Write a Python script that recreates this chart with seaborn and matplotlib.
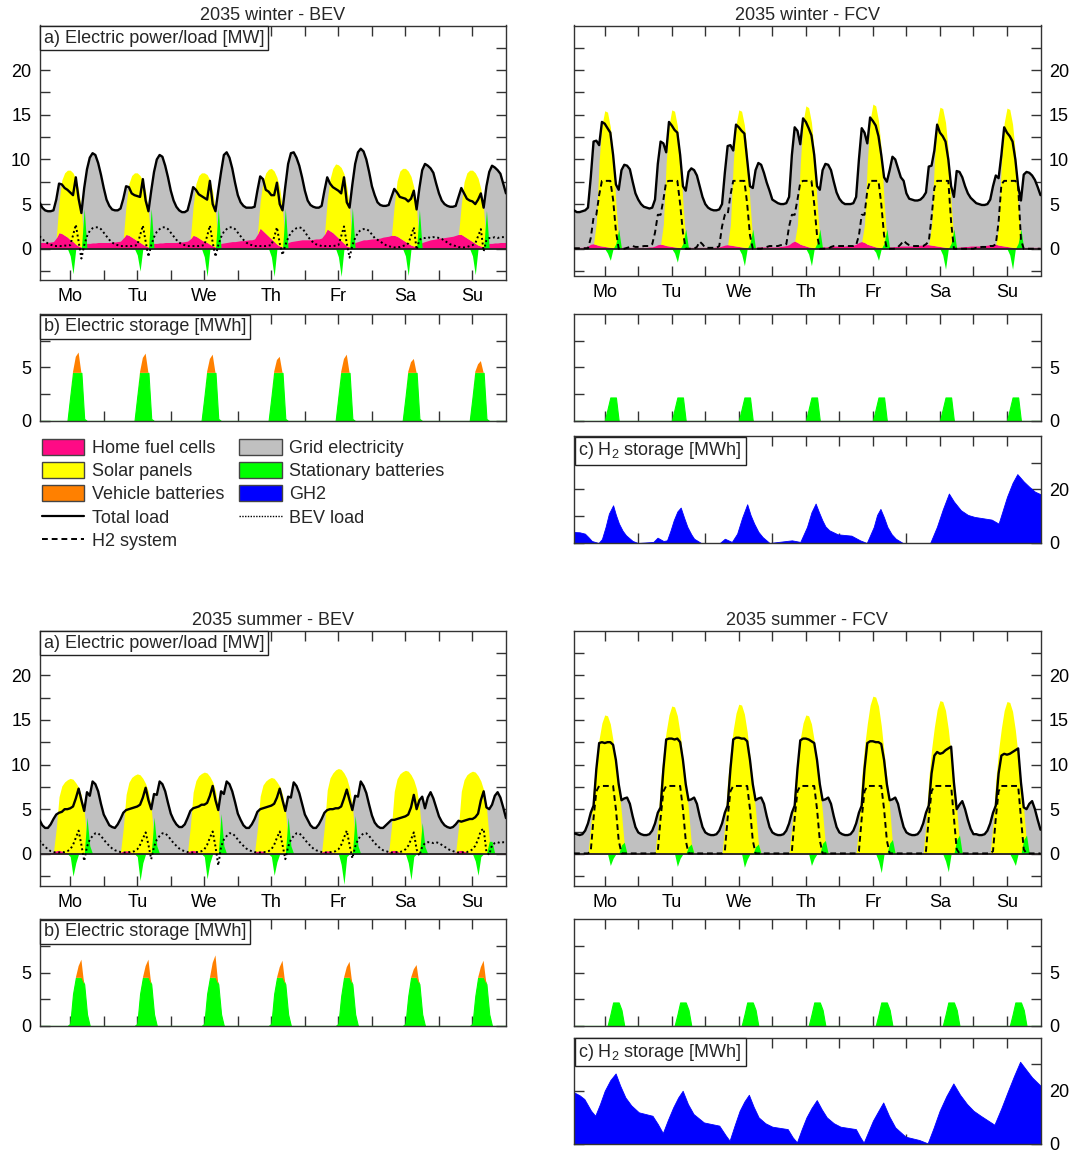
import numpy as np
import matplotlib
matplotlib.use("Agg")
import matplotlib.pyplot as plt
from matplotlib.patches import Patch
from matplotlib.lines import Line2D
import seaborn as sns

# ---------------- data (hourly, hour 1..24 of each day, Mo..Su) ----------------
DAYS = ["Mo", "Tu", "We", "Th", "Fr", "Sa", "Su"]

# ---- 2035 winter - BEV ----
WB_LOAD = [
    [5.2,4.6,4.3,4.2,4.2,4.3,5.5,7.3,7.2,6.8,6.6,6.3,6.0,8.0,5.6,4.0,6.8,8.9,10.2,10.7,10.5,9.6,8.3,6.8],
    [5.5,4.8,4.4,4.3,4.3,4.5,5.6,7.0,6.9,6.2,6.0,5.9,5.8,7.8,5.4,4.2,6.5,8.6,10.0,10.5,10.3,9.3,8.0,6.5],
    [5.4,4.7,4.3,4.1,4.1,4.3,5.5,6.9,6.6,6.1,5.9,5.7,5.5,7.6,5.0,4.2,6.5,8.6,10.5,10.8,10.2,9.0,7.4,6.0],
    [5.2,4.8,4.6,4.6,4.6,4.7,6.5,8.1,7.8,6.6,6.4,6.0,6.0,7.4,5.0,4.3,7.0,9.5,10.7,10.8,10.2,9.3,8.0,6.5],
    [5.4,4.9,4.7,4.6,4.6,4.8,6.5,8.0,7.3,6.9,6.7,6.5,6.2,8.0,5.2,4.6,7.2,9.5,10.8,11.2,10.9,10.0,8.6,7.0],
    [6.0,5.2,4.9,4.8,4.8,4.9,5.8,6.7,6.3,5.8,5.7,5.6,5.3,5.6,6.5,4.4,6.8,8.8,9.5,9.3,9.0,8.5,7.3,6.2],
    [5.4,5.0,4.8,4.7,4.7,4.8,5.8,6.8,6.2,5.6,5.4,5.3,5.0,5.5,6.2,4.6,7.0,8.6,9.3,9.1,8.8,8.4,7.3,6.2],
]
WB_BEV = [
    [1.4,1.1,0.8,0.6,0.45,0.35,0.3,0.3,0.3,0.35,0.35,0.4,1.5,2.7,0.8,-1.1,0.4,1.4,2.0,2.3,2.4,2.4,2.2,1.8],
    [1.4,1.0,0.7,0.5,0.4,0.3,0.3,0.3,0.3,0.3,0.35,0.4,1.5,2.6,0.8,-0.9,0.4,1.3,1.9,2.2,2.4,2.4,2.2,1.8],
    [1.4,1.0,0.7,0.5,0.4,0.3,0.3,0.3,0.3,0.3,0.35,0.4,1.4,2.6,0.7,-0.9,0.4,1.3,1.9,2.2,2.4,2.4,2.2,1.8],
    [1.4,1.0,0.7,0.5,0.4,0.3,0.3,0.3,0.3,0.3,0.35,0.4,1.3,2.4,0.6,-0.7,0.4,1.2,1.8,2.1,2.3,2.4,2.3,1.9],
    [1.4,1.0,0.7,0.5,0.4,0.3,0.3,0.3,0.3,0.3,0.35,0.4,1.4,2.5,0.6,-1.0,0.4,1.2,1.8,2.1,2.2,2.2,2.0,1.6],
    [1.2,1.0,0.8,0.6,0.4,0.3,0.2,0.15,0.15,0.2,0.3,0.4,0.6,1.4,2.4,-0.1,1.0,1.2,1.2,1.3,1.2,1.3,1.3,1.2],
    [1.1,0.9,0.7,0.5,0.4,0.3,0.2,0.15,0.15,0.2,0.3,0.4,0.6,1.4,2.2,-0.3,1.0,1.2,1.2,1.3,1.2,1.3,1.3,1.3],
]
WB_FC = [
    [0.7,0.7,0.7,0.7,0.75,0.8,1.2,1.8,1.7,1.5,1.3,1.0,0.8,0.5,0.3,0.2,0.4,0.6,0.6,0.65,0.65,0.7,0.7,0.7],
    [0.7,0.7,0.75,0.75,0.8,0.85,1.2,1.6,1.5,1.3,1.1,0.9,0.7,0.5,0.3,0.2,0.4,0.6,0.6,0.65,0.65,0.7,0.7,0.7],
    [0.7,0.7,0.75,0.75,0.8,0.85,1.1,1.5,1.4,1.2,1.0,0.8,0.7,0.5,0.3,0.2,0.4,0.6,0.65,0.7,0.75,0.8,0.8,0.85],
    [0.9,0.9,0.95,1.0,1.0,1.1,1.6,2.3,2.0,1.7,1.4,1.1,0.8,0.5,0.3,0.2,0.4,0.7,0.8,0.85,0.9,0.95,1.0,1.0],
    [1.0,1.0,1.05,1.1,1.1,1.2,1.6,2.2,2.0,1.8,1.5,1.2,0.9,0.6,0.3,0.2,0.4,0.7,0.8,0.9,1.0,1.0,1.05,1.1],
    [1.1,1.15,1.2,1.3,1.35,1.4,1.5,1.5,1.4,1.2,1.0,0.8,0.6,0.4,0.3,0.2,0.4,0.7,0.8,0.9,1.0,1.05,1.1,1.2],
    [1.2,1.25,1.3,1.35,1.4,1.5,1.6,1.6,1.4,1.2,1.0,0.8,0.6,0.4,0.3,0.2,0.4,0.6,0.6,0.65,0.65,0.7,0.7,0.7],
]
WB_SOLAR_START = 8   # values for hours 8..16
WB_SOLAR = [
    [3.5,6.0,7.0,7.5,7.8,7.7,7.3,6.3,4.2],
    [3.3,5.8,6.9,7.4,7.6,7.5,7.1,6.1,4.0],
    [3.3,5.9,7.0,7.5,7.7,7.6,7.2,6.1,4.0],
    [3.0,5.5,6.8,7.5,7.9,7.9,7.5,6.5,4.3],
    [3.2,5.8,7.2,8.0,8.2,8.2,7.8,6.6,4.4],
    [3.4,6.2,7.5,8.0,8.2,8.1,7.7,6.6,4.3],
    [3.4,6.1,7.3,7.8,8.0,7.9,7.5,6.4,4.2],
]
WB_BATT_START = 12   # hours 12..18
WB_BATT = [
    [-0.8,-2.8,0,0,0,4.5,0],
    [-0.7,-2.5,0,0,0,4.5,0],
    [-0.9,-3.1,0,0,0,4.5,0],
    [-0.9,-3.1,0,0,0,4.5,0],
    [-0.9,-3.1,0,0,0,4.6,0],
    [-0.8,-3.0,0,0,0,4.4,0],
    [-0.8,-2.9,0,0,0,4.3,0],
]
WB_STAT_START = 11   # hours 11..18
WB_STAT = [
    [0,2.3,4.5,4.5,4.5,4.5,0.2,0],
    [0,2.3,4.5,4.5,4.5,4.5,0.2,0],
    [0,2.2,4.5,4.5,4.5,4.5,0.2,0],
    [0,2.2,4.5,4.5,4.5,4.5,0.2,0],
    [0,2.3,4.5,4.5,4.5,4.5,0.2,0],
    [0,2.2,4.5,4.5,4.5,4.5,0.2,0],
    [0,2.2,4.5,4.5,4.5,4.5,0.2,0],
]
WB_VEH_START = 13    # hours 13..16
WB_VEH = [
    [0.1,1.5,1.9,0.0],
    [0.1,1.4,1.8,0.0],
    [0.1,1.3,1.7,0.0],
    [0.1,1.2,1.5,0.0],
    [0.1,1.3,1.7,0.0],
    [0.1,1.0,1.3,0.0],
    [0.1,0.8,1.1,0.0],
]

# ---- 2035 winter - FCV ----
WF_LOAD = [
    [4.3,4.1,4.1,4.2,4.3,4.6,8.0,12.0,12.1,11.6,14.2,14.0,13.5,13.0,10.5,7.2,6.6,8.8,9.4,9.3,8.9,7.5,6.2,5.5],
    [5.0,4.7,4.6,4.5,4.6,5.5,9.5,12.0,11.8,10.8,14.2,13.8,13.3,13.0,10.5,7.0,6.5,8.6,9.0,8.8,8.2,7.0,5.8,5.0],
    [4.6,4.4,4.3,4.3,4.4,5.0,8.5,11.5,11.6,11.0,13.9,13.6,13.2,12.9,10.0,7.0,6.8,8.8,9.6,9.4,8.5,7.4,6.5,5.5],
    [5.3,5.1,5.0,5.0,5.1,5.8,10.5,13.6,13.2,11.7,14.6,14.2,13.5,12.7,10.5,7.0,6.6,8.8,9.5,9.4,8.8,7.5,6.3,5.6],
    [5.2,5.0,5.0,5.0,5.1,5.8,10.0,13.5,13.0,11.8,14.7,14.3,13.8,12.6,10.5,8.0,7.5,8.8,10.3,10.0,9.0,8.0,7.6,6.2],
    [5.6,5.5,5.4,5.4,5.5,5.8,6.3,9.2,9.3,11.0,13.9,13.0,12.6,12.0,10.0,7.0,5.8,8.7,8.6,8.0,7.0,6.2,5.7,5.4],
    [5.1,5.0,4.9,4.9,5.0,5.5,7.0,8.2,7.9,10.5,13.6,13.0,12.6,12.0,10.0,7.0,5.4,8.3,8.6,8.5,8.2,7.7,6.9,6.0],
]
WF_H2 = [
    [0.05,0.05,0.05,0.05,0.05,0.05,1.2,3.5,3.8,6.0,7.6,7.6,7.6,7.6,5.5,2.0,0,0,0,0.1,0.2,0.3,0.2,0.2],
    [0.2,0.3,0.3,0.3,0.5,1.8,3.8,3.8,5.5,7.5,7.6,7.6,7.6,7.6,5.0,1.8,0,0,0,0,0.2,0.8,0.5,0.1],
    [0.1,0.1,0.1,0.1,0.3,2.5,3.8,3.8,6.0,7.6,7.6,7.6,7.6,7.6,5.0,1.5,0,0,0,0,0.1,0.2,0.3,0.3],
    [0.3,0.3,0.4,0.4,0.5,2.5,3.8,3.8,5.5,7.4,7.6,7.6,7.6,7.6,5.0,1.5,0,0,0,0,0.2,0.3,0.3,0.3],
    [0.3,0.3,0.3,0.3,0.3,0.4,1.5,3.8,3.8,6.5,7.6,7.6,7.6,7.6,5.0,1.5,0,0,0,0,0.2,0.5,0.9,0.6],
    [0.4,0.3,0.3,0.3,0.3,0.3,0.5,0.8,3.5,6.8,7.6,7.6,7.6,7.6,7.6,3.0,0,0,0,0,0,0,0,0],
    [0.1,0.1,0.2,0.2,0.2,0.3,0.3,0.5,3.0,7.2,7.6,7.6,7.6,7.6,7.6,7.0,1.0,0,0,0,0,0,0,0],
]
WF_FC = [
    [0.15,0.15,0.15,0.15,0.2,0.3,0.5,0.55,0.45,0.35,0.3,0.25,0.2,0.15,0.1,0.1,0.15,0.15,0.15,0.15,0.15,0.15,0.15,0.15],
    [0.15,0.15,0.15,0.2,0.2,0.3,0.45,0.5,0.45,0.35,0.3,0.25,0.2,0.15,0.1,0.1,0.15,0.15,0.15,0.15,0.15,0.15,0.15,0.15],
    [0.15,0.15,0.15,0.2,0.2,0.3,0.4,0.45,0.4,0.35,0.3,0.25,0.2,0.15,0.1,0.1,0.15,0.15,0.2,0.2,0.2,0.2,0.2,0.2],
    [0.2,0.2,0.25,0.3,0.35,0.45,0.7,0.85,0.7,0.5,0.4,0.3,0.2,0.15,0.1,0.1,0.15,0.2,0.2,0.25,0.25,0.3,0.3,0.3],
    [0.3,0.3,0.35,0.35,0.4,0.5,0.7,0.8,0.7,0.5,0.4,0.3,0.2,0.15,0.1,0.1,0.15,0.2,0.2,0.25,0.25,0.3,0.3,0.3],
    [0.3,0.3,0.35,0.35,0.4,0.4,0.45,0.45,0.4,0.35,0.3,0.25,0.2,0.15,0.1,0.1,0.15,0.15,0.2,0.2,0.25,0.25,0.3,0.3],
    [0.3,0.3,0.35,0.35,0.4,0.45,0.5,0.5,0.4,0.35,0.3,0.25,0.2,0.15,0.1,0.1,0.15,0.15,0.15,0.15,0.15,0.15,0.15,0.15],
]
WF_SOLAR_START = 9   # hours 9..17
WF_SOLAR = [
    [2.5,9.5,13.5,15.2,15.1,13.5,10.5,5.0,0.8],
    [2.3,9.3,13.5,15.3,15.2,13.6,10.5,5.0,0.8],
    [2.3,9.2,13.6,15.3,15.2,13.7,10.6,5.1,0.8],
    [2.0,9.0,13.8,15.7,15.6,14.0,10.8,5.2,0.8],
    [2.0,9.2,14.0,15.9,15.8,14.2,11.0,5.3,0.8],
    [2.2,9.3,13.9,15.6,15.5,14.0,10.8,5.2,0.8],
    [2.2,9.2,13.8,15.5,15.4,13.8,10.6,5.1,0.8],
]
WF_BATT_START = 13   # hours 13..18
WF_BATT = [
    [-0.5,-1.3,0,0.6,2.2,0],
    [-0.5,-1.5,0,0.6,2.2,0],
    [-0.6,-1.9,0,0.6,2.2,0],
    [-0.6,-1.9,0,0.6,2.2,0],
    [-0.4,-1.3,0,0.6,2.2,0],
    [-0.7,-2.3,0,0.6,2.2,0],
    [-0.7,-2.3,0,0.6,2.2,0],
]
WF_STAT_START = 12   # hours 12..17
WF_STAT = [
    [0,1.1,2.2,2.2,2.2,0],
    [0,1.1,2.2,2.2,2.2,0],
    [0,1.1,2.2,2.2,2.2,0],
    [0,1.1,2.2,2.2,2.2,0],
    [0,1.1,2.2,2.2,2.2,0],
    [0,1.1,2.2,2.2,2.2,0],
    [0,1.1,2.2,2.2,2.2,0],
]
WF_GH2_HOURS = [1,3,4.9,6.1,7.4,9.8,11,12.3,13.5,15,16,17.1,18.4,19.6,22,23.9,
                29.4,30.9,33,34.3,35.5,36.7,38,39.2,40.4,41.6,43,44,46.5,
                53.2,55,57.5,59.4,61.2,63,64.2,65.5,67,68.5,71,
                79,82,84.4,86,87.5,88.7,89.9,91,92.4,95.4,100.3,103.4,105.8,
                108.3,109.5,110.7,112,113.2,114.7,116.2,118.7,
                128.5,130.9,133,135.2,137,139.5,142,144.4,150.5,153,156,158,159.7,162,164,166,168]
WF_GH2 = [4.1,4.0,3.5,2.25,0.75,0,1.5,6,11,14.1,10.5,7.25,4.6,2.9,0.75,0,
          0.4,2.0,0.75,1,4.5,8.5,11.8,13.25,9.5,6,3.2,1.6,0,
          0,1.6,0.4,3.5,9.5,14.5,10.5,7.25,4.2,2.25,0,
          1,0.4,6,11.5,14.75,11.5,8.5,6.2,4.75,3.25,2.75,1,0,
          6,10.5,12.75,9.5,6,3.3,1.6,0,
          0,6,12.5,18.5,15.5,12.25,10.5,9.75,8.75,7.25,17.25,22.5,25.75,23,21,19.2,18.25]

# ---- 2035 summer - BEV ----
SB_LOAD = [
    [3.8,3.2,2.9,2.9,3.3,3.9,4.4,4.6,4.7,5.0,5.0,5.1,5.3,6.2,7.3,6.0,4.8,6.9,6.5,8.1,7.8,7.0,5.6,4.4],
    [3.8,3.2,3.0,2.9,3.3,3.9,4.6,4.9,5.0,5.1,5.2,5.3,5.5,6.3,7.4,6.0,5.0,6.7,6.6,8.1,7.8,7.0,5.7,4.5],
    [3.8,3.3,3.0,3.0,3.3,4.0,4.8,5.1,5.2,5.3,5.5,5.5,5.7,6.5,7.6,6.0,4.9,7.0,6.7,8.1,7.8,7.0,5.8,4.5],
    [3.8,3.2,2.9,2.9,3.3,3.9,4.7,5.0,5.1,5.2,5.3,5.4,5.6,6.3,7.3,6.0,4.8,6.4,6.3,8.0,7.6,6.8,5.6,4.4],
    [3.8,3.2,2.9,2.9,3.3,3.9,4.6,4.9,5.0,5.0,5.1,5.1,5.3,6.2,7.2,6.0,4.9,6.5,6.4,8.1,7.6,6.8,5.5,4.3],
    [3.5,3.1,2.9,2.9,3.2,3.5,3.8,3.8,3.9,4.0,4.1,4.2,4.4,5.2,6.6,5.0,6.0,6.4,5.1,6.3,6.9,6.2,5.2,4.2],
    [3.6,3.2,3.0,2.9,3.0,3.3,3.7,3.6,3.7,3.8,3.9,3.9,4.1,4.5,6.0,7.0,5.2,5.0,5.5,6.5,6.9,6.3,5.2,4.0],
]
SB_BEV = [
    [1.5,1.1,0.8,0.5,0.3,0.2,0.15,0.15,0.2,0.2,0.3,0.5,1.0,1.8,2.6,1.0,-0.8,0.8,1.6,2.0,2.3,2.3,2.0,1.6],
    [1.2,0.9,0.6,0.4,0.3,0.2,0.15,0.15,0.2,0.2,0.3,0.5,1.0,1.7,2.4,1.0,-0.6,0.8,1.6,2.0,2.3,2.3,2.0,1.6],
    [1.2,0.9,0.6,0.4,0.3,0.2,0.15,0.15,0.2,0.2,0.3,0.5,1.0,1.8,2.5,0.8,-1.3,0.8,1.6,2.0,2.3,2.3,2.0,1.6],
    [1.2,0.9,0.6,0.4,0.3,0.2,0.15,0.15,0.2,0.2,0.3,0.5,1.0,1.8,2.5,1.0,-0.6,0.8,1.6,2.0,2.3,2.3,2.0,1.6],
    [1.2,0.9,0.6,0.4,0.3,0.2,0.15,0.15,0.2,0.2,0.3,0.5,1.0,1.8,2.6,1.0,-0.5,0.8,1.6,2.0,2.3,2.3,2.0,1.6],
    [1.2,0.9,0.6,0.4,0.3,0.2,0.15,0.15,0.2,0.2,0.3,0.5,0.9,1.6,2.4,0.5,-0.2,0.8,1.2,1.3,1.3,1.2,1.3,1.2],
    [1.0,0.8,0.6,0.4,0.3,0.2,0.15,0.15,0.2,0.2,0.3,0.5,0.9,1.6,2.6,2.8,0.2,-0.1,1.0,1.2,1.3,1.2,1.3,1.3],
]
SB_FC = [
    [0.05,0.05,0.05,0.05,0.1,0.2,0.35,0.4,0.3,0.15,0.1,0.05,0.05,0.05,0.05,0.05,0.05,0.05,0.05,0.05,0.05,0.05,0.05,0.05],
    [0.05,0.05,0.05,0.05,0.1,0.2,0.3,0.35,0.3,0.15,0.1,0.05,0.05,0.05,0.05,0.05,0.05,0.05,0.05,0.05,0.05,0.05,0.05,0.05],
    [0.05,0.05,0.05,0.05,0.1,0.2,0.35,0.4,0.3,0.15,0.1,0.05,0.05,0.05,0.05,0.05,0.05,0.05,0.05,0.05,0.05,0.05,0.05,0.05],
    [0.05,0.05,0.05,0.05,0.1,0.2,0.3,0.35,0.3,0.15,0.1,0.05,0.05,0.05,0.05,0.05,0.05,0.05,0.05,0.05,0.05,0.05,0.05,0.05],
    [0.05,0.05,0.05,0.05,0.1,0.2,0.3,0.35,0.3,0.15,0.1,0.05,0.05,0.05,0.05,0.05,0.05,0.05,0.05,0.05,0.05,0.05,0.05,0.05],
    [0.05,0.05,0.05,0.05,0.1,0.2,0.35,0.4,0.3,0.15,0.1,0.05,0.05,0.05,0.05,0.05,0.05,0.05,0.05,0.05,0.05,0.05,0.05,0.05],
    [0.05,0.05,0.05,0.05,0.1,0.2,0.35,0.4,0.3,0.15,0.1,0.05,0.05,0.05,0.05,0.05,0.05,0.05,0.05,0.05,0.05,0.05,0.05,0.05],
]
SB_SOLAR_START = 7   # hours 7..18
SB_SOLAR = [
    [2.5,6.0,7.3,7.9,8.2,8.4,8.3,7.9,7.4,6.5,4.8,1.5],
    [2.6,6.3,7.7,8.4,8.7,8.9,8.8,8.4,7.8,6.9,5.1,1.6],
    [2.7,6.5,7.9,8.6,8.9,9.1,9.0,8.6,8.0,7.0,5.2,1.6],
    [2.5,6.1,7.4,8.0,8.3,8.5,8.4,8.0,7.5,6.6,4.9,1.5],
    [2.8,6.8,8.2,8.9,9.3,9.5,9.4,9.0,8.4,7.3,5.4,1.7],
    [2.7,6.6,8.1,8.8,9.1,9.3,9.2,8.8,8.2,7.2,5.3,1.7],
    [2.7,6.6,8.0,8.7,9.0,9.2,9.1,8.7,8.1,7.1,5.2,1.6],
]
SB_BATT_START = 12   # hours 12..20
SB_BATT = [
    [-0.3,-2.5,-1.0,0,0,0,4.1,0.9,0],
    [-0.3,-3.0,-1.0,0,0,0,4.1,0.9,0],
    [-0.3,-2.8,-1.0,0,0,0,4.5,0.9,0],
    [-0.3,-2.4,-0.9,0,0,0,4.1,0.9,0],
    [0,-1.2,-3.4,-0.3,0,0,4.3,0.9,0],
    [0,-1.0,-2.9,-0.3,0,0,3.5,0.8,0],
    [0,-0.8,-2.4,-0.3,0,0,1.4,1.4,0],
]
SB_STAT_START = 12   # hours 12..19
SB_STAT = [
    [0.2,3.0,4.5,4.5,4.5,3.9,1.1,0],
    [0.2,3.0,4.5,4.5,4.5,3.9,1.1,0],
    [0.2,3.0,4.5,4.5,4.5,3.9,1.1,0],
    [0.2,3.0,4.5,4.5,4.5,3.9,1.1,0],
    [0.2,2.8,4.5,4.5,4.5,3.9,1.1,0],
    [0.2,2.8,4.5,4.5,4.5,3.9,1.1,0],
    [0.2,2.8,4.5,4.5,4.5,3.9,1.1,0],
]
SB_VEH_START = 14    # hours 14..17
SB_VEH = [
    [0.0,1.1,1.7,0.0],
    [0.0,1.1,1.7,0.0],
    [0.0,1.4,2.1,0.0],
    [0.0,1.0,1.6,0.0],
    [0.0,1.0,1.5,0.0],
    [0.0,0.8,1.2,0.0],
    [0.0,1.0,1.6,0.0],
]

# ---- 2035 summer - FCV ----
SF_LOAD = [
    [2.3,2.2,2.1,2.2,2.6,3.4,4.6,5.4,9.5,12.4,12.5,12.4,12.5,12.5,12.2,10.5,7.8,6.0,6.2,6.3,5.6,4.2,3.0,2.4],
    [2.2,2.1,2.1,2.2,2.6,3.4,4.6,5.2,9.5,12.8,12.9,12.9,12.8,12.9,12.5,10.5,7.8,6.0,6.1,6.3,5.6,4.2,3.0,2.4],
    [2.2,2.1,2.1,2.2,2.6,3.4,4.6,5.4,9.5,12.8,13.0,13.0,12.9,12.9,12.6,10.5,7.8,6.0,6.2,6.3,5.6,4.2,3.0,2.4],
    [2.2,2.1,2.1,2.2,2.6,3.4,4.6,5.4,9.5,12.7,12.9,12.9,12.8,12.6,12.4,10.5,7.8,6.0,6.1,6.3,5.6,4.2,3.0,2.4],
    [2.2,2.1,2.1,2.2,2.6,3.4,4.6,5.4,9.5,12.4,12.6,12.6,12.5,12.5,12.3,10.5,7.8,6.0,6.1,6.3,5.6,4.2,3.0,2.4],
    [2.2,2.1,2.1,2.2,2.6,3.4,4.6,5.4,9.0,11.0,11.4,11.2,11.3,11.6,11.8,12.0,8.0,5.0,5.5,5.9,5.0,3.8,2.8,2.2],
    [2.2,2.1,2.1,2.2,2.6,3.4,4.6,5.4,9.0,11.0,11.2,11.1,11.2,11.4,11.6,11.8,8.0,5.2,5.0,5.6,5.9,5.0,3.8,2.7],
]
SF_H2 = [
    [0.05,0.05,0.05,0.05,0.05,0.05,0.3,4.0,7.0,7.6,7.6,7.6,7.6,7.6,7.6,5.0,1.5,0.05,0.05,0.05,0.05,0.05,0.05,0.05],
    [0.05,0.05,0.05,0.05,0.05,0.05,0.3,4.0,7.0,7.6,7.6,7.6,7.6,7.6,7.6,5.0,1.5,0.05,0.05,0.05,0.05,0.05,0.05,0.05],
    [0.05,0.05,0.05,0.05,0.05,0.05,0.3,4.0,7.0,7.6,7.6,7.6,7.6,7.6,7.6,5.0,1.5,0.05,0.05,0.05,0.05,0.05,0.05,0.05],
    [0.05,0.05,0.05,0.05,0.05,0.05,0.3,4.0,7.0,7.6,7.6,7.6,7.6,7.6,7.6,5.0,1.5,0.05,0.05,0.05,0.05,0.05,0.05,0.05],
    [0.05,0.05,0.05,0.05,0.05,0.05,0.3,4.0,7.0,7.6,7.6,7.6,7.6,7.6,7.6,5.0,1.5,0.05,0.05,0.05,0.05,0.05,0.05,0.05],
    [0.05,0.05,0.05,0.05,0.05,0.05,0.3,4.0,7.0,7.6,7.6,7.6,7.6,7.6,7.6,7.6,4.0,0.5,0.05,0.05,0.05,0.05,0.05,0.05],
    [0.05,0.05,0.05,0.05,0.05,0.05,0.3,4.0,7.0,7.6,7.6,7.6,7.6,7.6,7.6,7.6,4.0,0.5,0.05,0.05,0.05,0.05,0.05,0.05],
]
SF_FC = [
    [0.05,0.05,0.05,0.05,0.05,0.08,0.12,0.12,0.1,0.08,0.05,0.05,0.05,0.05,0.05,0.05,0.05,0.05,0.05,0.05,0.05,0.05,0.05,0.05],
    [0.05,0.05,0.05,0.05,0.05,0.08,0.12,0.12,0.1,0.08,0.05,0.05,0.05,0.05,0.05,0.05,0.05,0.05,0.05,0.05,0.05,0.05,0.05,0.05],
    [0.05,0.05,0.05,0.05,0.05,0.08,0.12,0.12,0.1,0.08,0.05,0.05,0.05,0.05,0.05,0.05,0.05,0.05,0.05,0.05,0.05,0.05,0.05,0.05],
    [0.05,0.05,0.05,0.05,0.05,0.08,0.12,0.12,0.1,0.08,0.05,0.05,0.05,0.05,0.05,0.05,0.05,0.05,0.05,0.05,0.05,0.05,0.05,0.05],
    [0.05,0.05,0.05,0.05,0.05,0.08,0.12,0.12,0.1,0.08,0.05,0.05,0.05,0.05,0.05,0.05,0.05,0.05,0.05,0.05,0.05,0.05,0.05,0.05],
    [0.05,0.05,0.05,0.05,0.05,0.08,0.12,0.12,0.1,0.08,0.05,0.05,0.05,0.05,0.05,0.05,0.05,0.05,0.05,0.05,0.05,0.05,0.05,0.05],
    [0.05,0.05,0.05,0.05,0.05,0.08,0.12,0.12,0.1,0.08,0.05,0.05,0.05,0.05,0.05,0.05,0.05,0.05,0.05,0.05,0.05,0.05,0.05,0.05],
]
SF_SOLAR_START = 7   # hours 7..19
SF_SOLAR = [
    [3.0,7.5,10.5,12.8,14.6,15.5,15.4,14.5,12.6,10.0,7.5,4.5,1.0],
    [3.2,8.0,11.2,13.6,15.5,16.5,16.4,15.4,13.4,10.6,8.0,4.8,1.1],
    [3.2,8.1,11.3,13.8,15.7,16.7,16.6,15.6,13.6,10.8,8.1,4.8,1.1],
    [3.0,7.5,10.5,12.8,14.6,15.5,15.4,14.5,12.6,10.0,7.5,4.5,1.0],
    [3.4,8.5,11.9,14.5,16.6,17.6,17.5,16.5,14.3,11.3,8.5,5.1,1.1],
    [3.3,8.3,11.6,14.1,16.1,17.1,17.0,16.0,13.9,11.0,8.3,5.0,1.1],
    [3.3,8.2,11.5,14.0,16.0,17.0,16.9,15.9,13.8,10.9,8.2,4.9,1.1],
]
SF_BATT_START = 13   # hours 13..20
SF_BATT = [
    [0,-1.3,-0.5,0,0,1.0,1.3,0],
    [0,-1.4,-0.5,0,0,0.8,1.1,0],
    [0,-1.5,-0.6,0,0,0.8,1.1,0],
    [0,-1.3,-0.5,0,0,1.2,1.5,0],
    [0,-0.8,-2.1,0,0,1.2,1.6,0],
    [0,-0.8,-2.0,0,0,1.6,2.1,0],
    [0,-0.6,-1.3,0,0,1.6,2.1,0],
]
SF_STAT_START = 13   # hours 13..19
SF_STAT = [
    [0,1.05,2.2,2.2,2.2,1.5,0],
    [0,1.05,2.2,2.2,2.2,1.5,0],
    [0,1.05,2.2,2.2,2.2,1.5,0],
    [0,1.05,2.2,2.2,2.2,1.5,0],
    [0,1.05,2.2,2.2,2.2,1.5,0],
    [0,1.05,2.2,2.2,2.2,1.5,0],
    [0,1.05,2.2,2.2,2.2,1.5,0],
]
SF_GH2_HOURS = [1,3,4.7,7.1,8.6,10.3,12,14,15.9,17.5,19.4,21.5,24.2,29.1,31,32.8,34.6,36.5,38.3,39.9,
                41.8,43.8,47.5,53,55.4,56.7,58.5,60.3,62,63.6,65.3,67.1,69.5,72,77.5,79.3,80.8,
                82.5,84.2,86,87.9,89.7,91.5,94,96.4,101.9,103.5,104.7,106.3,108,110,111.7,113.8,
                116,119.7,124.6,127.6,129.7,131.9,134.3,136.8,139.2,141.7,144,146.6,151.5,154,
                156.4,158.5,160.7,162.8,165,168]
SF_GH2 = [19.4,18.3,16.9,12.5,10.6,15,20,24,26.5,22,17.5,14.5,11.9,10.6,7.5,4.1,9,13.75,17.5,20,
          15,11.25,8.1,6.9,3.1,1.25,7,12.5,16,18.5,14,10,7.8,6.5,5.6,2.5,0.6,
          5.5,10,13.5,16.5,13,10,7.8,6.5,5.6,2.5,0.5,4.5,8.75,12.5,15.6,10.5,
          6.25,2.75,1.5,0.25,6,12.5,18,22.75,18.5,15,12.5,10.6,7.25,13.5,
          20,25.5,30.9,28,25,21.9]

LEGEND_LABELS = ["Home fuel cells", "Solar panels", "Vehicle batteries", "Total load", "H2 system",
                 "Grid electricity", "Stationary batteries", "GH2", "BEV load"]

# ---------------- style ----------------
C_FC, C_SOLAR, C_VEH = "#FF0A85", "#FFFF00", "#FF8000"
C_GRID, C_STAT, C_GH2 = "#C0C0C0", "#00FF00", "#0000FF"
EDGE = "#333333"

sns.set_theme(style="ticks")
plt.rcParams["font.family"] = ["Liberation Sans", "DejaVu Sans"]
plt.rcParams["mathtext.fontset"] = "custom"
plt.rcParams["mathtext.rm"] = "Liberation Sans"
plt.rcParams["mathtext.it"] = "Liberation Sans:italic"
FS = 13

HOURS = np.arange(1, 169)


def week(day_lists):
    return np.concatenate([np.asarray(d, float) for d in day_lists])


def week_window(day_lists, start):
    out = np.zeros(168)
    for d, vals in enumerate(day_lists):
        i0 = d * 24 + start - 1
        out[i0:i0 + len(vals)] = vals
    return out


W, H = 1075, 1153
fig = plt.figure(figsize=(W / 100, H / 100), dpi=100)


def add_ax(x0, y0, x1, y1):
    return fig.add_axes([x0 / W, 1 - y1 / H, (x1 - x0) / W, (y1 - y0) / H])


def style_axes(ax, right, yticks, ylabels, xlabels):
    ax.set_xlim(1, 168)
    ax.set_xticks(np.arange(12, 168, 12))
    if xlabels:
        ax.set_xticklabels([DAYS[i // 2] if i % 2 == 0 else "" for i in range(13)])
    else:
        ax.set_xticklabels([])
    ax.set_yticks(yticks)
    ax.set_yticklabels(ylabels)
    ax.tick_params(direction="in", length=7, width=1.0, color=EDGE,
                   top=True, bottom=True, left=True, right=True,
                   labelsize=FS, pad=6, labelcolor="black",
                   labelleft=not right, labelright=right)
    for s in ax.spines.values():
        s.set_color(EDGE)
        s.set_linewidth(1.0)
    ax.set_facecolor("white")
    ax.set_xlabel("")
    ax.set_ylabel("")


def box_label(ax, text):
    ax.annotate(text, xy=(0, 1), xycoords="axes fraction", xytext=(3.2, -3.0),
                textcoords="offset points", ha="left", va="top", fontsize=FS, zorder=20,
                bbox=dict(boxstyle="square,pad=0.2", fc="white", ec="#222222", lw=1.0))


def power_panel(ax, load, fc, solar, batt, aux, aux_ls, ylo, right, title, label):
    load, fc, aux = week(load), week(fc), week(aux)
    ax.fill_between(HOURS, 0, load, color=C_GRID, lw=0, zorder=1)
    ax.fill_between(HOURS, 0, fc, color=C_FC, lw=0, zorder=2)
    ax.fill_between(HOURS, fc, fc + solar, color=C_SOLAR, lw=0, zorder=3)
    ax.fill_between(HOURS, 0, batt, color=C_STAT, lw=0, zorder=4)
    ax.axhline(0, color="#222222", lw=1.3, zorder=5)
    sns.lineplot(x=HOURS, y=aux, ax=ax, color="black", lw=1.4, linestyle=aux_ls,
                 errorbar=None, zorder=6)
    sns.lineplot(x=HOURS, y=load, ax=ax, color="black", lw=1.7, errorbar=None, zorder=7)
    ax.set_ylim(ylo, 25)
    yt = np.arange(-2.5, 25, 2.5)
    style_axes(ax, right, yt, [f"{v:g}" if (v >= 0 and v % 5 == 0) else "" for v in yt], True)
    ax.set_title(title, fontsize=FS, pad=4)
    if label:
        box_label(ax, label)


def storage_panel(ax, stat, veh, right, label):
    ax.fill_between(HOURS, 0, stat, color=C_STAT, lw=0.8, edgecolor=C_STAT, zorder=2)
    if veh is not None:
        ax.fill_between(HOURS, stat, stat + veh, where=veh > 0, interpolate=True,
                        color=C_VEH, lw=0, zorder=3)
    ax.set_ylim(0, 10)
    style_axes(ax, right, [0, 2.5, 5, 7.5], ["0", "", "5", ""], False)
    if label:
        box_label(ax, label)


def gh2_panel(ax, hours, values):
    ax.fill_between(hours, 0, values, color=C_GH2, lw=0.6, edgecolor=C_GH2, zorder=2)
    ax.set_ylim(0, 40)
    style_axes(ax, True, [0, 10, 20, 30], ["0", "", "20", ""], False)
    box_label(ax, r"c) H$_2$ storage [MWh]")


LX0, LX1 = 39.5, 506
RX0, RX1 = 574, 1040.5

# ---- winter ----
ax = add_ax(LX0, 25.5, LX1, 280)
power_panel(ax, WB_LOAD, WB_FC, week_window(WB_SOLAR, WB_SOLAR_START),
            week_window(WB_BATT, WB_BATT_START), WB_BEV, (0, (1, 1.4)), -3.5, False,
            "2035 winter - BEV", "a) Electric power/load [MW]")
ax = add_ax(RX0, 25.5, RX1, 275.5)
power_panel(ax, WF_LOAD, WF_FC, week_window(WF_SOLAR, WF_SOLAR_START),
            week_window(WF_BATT, WF_BATT_START), WF_H2, (0, (3, 2)), -3.0, True,
            "2035 winter - FCV", None)
ax = add_ax(LX0, 314, LX1, 421)
storage_panel(ax, week_window(WB_STAT, WB_STAT_START), week_window(WB_VEH, WB_VEH_START),
              False, "b) Electric storage [MWh]")
ax = add_ax(RX0, 314, RX1, 421)
storage_panel(ax, week_window(WF_STAT, WF_STAT_START), None, True, None)
ax = add_ax(RX0, 436, RX1, 543)
gh2_panel(ax, WF_GH2_HOURS, WF_GH2)

# ---- summer ----
ax = add_ax(LX0, 630.5, LX1, 886)
power_panel(ax, SB_LOAD, SB_FC, week_window(SB_SOLAR, SB_SOLAR_START),
            week_window(SB_BATT, SB_BATT_START), SB_BEV, (0, (1, 1.4)), -3.6, False,
            "2035 summer - BEV", "a) Electric power/load [MW]")
ax = add_ax(RX0, 630.5, RX1, 886)
power_panel(ax, SF_LOAD, SF_FC, week_window(SF_SOLAR, SF_SOLAR_START),
            week_window(SF_BATT, SF_BATT_START), SF_H2, (0, (3, 2)), -3.6, True,
            "2035 summer - FCV", None)
ax = add_ax(LX0, 919, LX1, 1026)
storage_panel(ax, week_window(SB_STAT, SB_STAT_START), week_window(SB_VEH, SB_VEH_START),
              False, "b) Electric storage [MWh]")
ax = add_ax(RX0, 919, RX1, 1026)
storage_panel(ax, week_window(SF_STAT, SF_STAT_START), None, True, None)
ax = add_ax(RX0, 1037.5, RX1, 1144)
gh2_panel(ax, SF_GH2_HOURS, SF_GH2)

# ---- legend ----
pk = dict(edgecolor="#444444", linewidth=1.0)
handles = [
    Patch(facecolor=C_FC, **pk), Patch(facecolor=C_SOLAR, **pk), Patch(facecolor=C_VEH, **pk),
    Line2D([], [], color="black", lw=1.6), Line2D([], [], color="black", lw=1.4, ls=(0, (3, 2))),
    Patch(facecolor=C_GRID, **pk), Patch(facecolor=C_STAT, **pk), Patch(facecolor=C_GH2, **pk),
    Line2D([], [], color="black", lw=1.0, ls=(0, (1, 1))),
]
fig.legend(handles, LEGEND_LABELS, loc="upper left", bbox_to_anchor=(42 / W, 1 - 439 / H),
           ncol=2, frameon=False, fontsize=FS, handlelength=2.35, handleheight=0.95,
           handletextpad=0.4, columnspacing=0.85, labelspacing=0.29,
           borderaxespad=0, borderpad=0)

fig.savefig("out.png", dpi=100, facecolor="white")
